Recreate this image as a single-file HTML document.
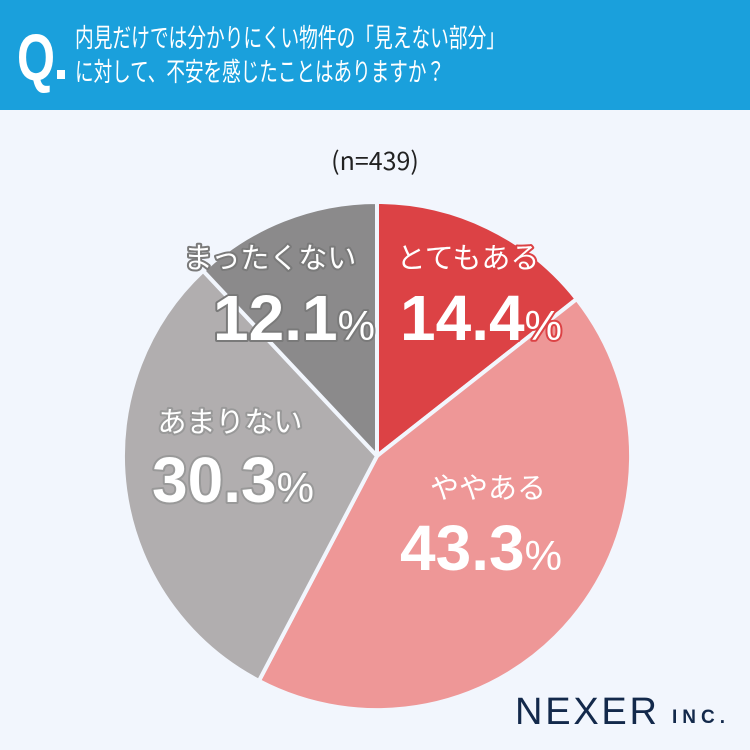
<!DOCTYPE html>
<html><head><meta charset="utf-8"><style>
body{margin:0;width:750px;height:750px;background:#f2f6fd;overflow:hidden;font-family:"Liberation Sans","Noto Sans CJK JP",sans-serif}
</style></head><body>
<svg width="750" height="750" xmlns="http://www.w3.org/2000/svg" style="position:absolute;left:0;top:0">
<rect x="0" y="0" width="750" height="110" fill="#1aa0dc"/>
<text x="17" y="80" font-size="66" fill="#fff" font-weight="bold" font-family="Liberation Sans, sans-serif" textLength="38" lengthAdjust="spacingAndGlyphs">Q</text>
<rect x="57" y="70" width="8" height="9" fill="#fff"/>
<text x="75" y="47" font-size="26" fill="#fff" font-family="Noto Sans CJK JP, sans-serif" textLength="430" lengthAdjust="spacingAndGlyphs">内見だけでは分かりにくい物件の「見えない部分」</text>
<text x="75" y="81" font-size="26" fill="#fff" font-family="Noto Sans CJK JP, sans-serif" textLength="370" lengthAdjust="spacingAndGlyphs">に対して、不安を感じたことはありますか？</text>
<text x="375" y="170" font-size="25" fill="#222" text-anchor="middle" font-family="Noto Sans CJK JP, sans-serif">(n=439)</text>
<g stroke="#f2f6fd" stroke-width="4" stroke-linejoin="round">
<path d="M377,456 L377,202 A254,254 0 0 1 576.7,299 Z" fill="#dc4245"/>
<path d="M377,456 L576.7,299 A254,254 0 0 1 258.9,680.9 Z" fill="#ee9797"/>
<path d="M377,456 L258.9,680.9 A254,254 0 0 1 203.1,270.8 Z" fill="#b1aeaf"/>
<path d="M377,456 L203.1,270.8 A254,254 0 0 1 377,202 Z" fill="#8b8a8b"/>
</g>
<g font-family="Noto Sans CJK JP, sans-serif" fill="#fff" paint-order="stroke" stroke-linejoin="round">
<text x="468" y="268" font-size="29" text-anchor="middle" stroke="#dc4245" stroke-width="4">とてもある</text>
<text x="400" y="340" font-size="64" stroke="#dc4245" stroke-width="4" font-family="Liberation Sans, sans-serif" font-weight="bold">14.4<tspan font-size="42" font-weight="normal">%</tspan></text>
<text x="270" y="268" font-size="29" text-anchor="middle" stroke="#7a7a7a" stroke-width="4">まったくない</text>
<text x="213" y="340" font-size="64" stroke="#7a7a7a" stroke-width="4" font-family="Liberation Sans, sans-serif" font-weight="bold">12.1<tspan font-size="42" font-weight="normal">%</tspan></text>
<text x="230" y="432" font-size="29" text-anchor="middle" stroke="#999" stroke-width="4">あまりない</text>
<text x="152" y="502" font-size="64" stroke="#999" stroke-width="4" font-family="Liberation Sans, sans-serif" font-weight="bold">30.3<tspan font-size="42" font-weight="normal">%</tspan></text>
<text x="488" y="498" font-size="29" text-anchor="middle" stroke="#ee9797" stroke-width="4">ややある</text>
<text x="400" y="570" font-size="64" stroke="#ee9797" stroke-width="4" font-family="Liberation Sans, sans-serif" font-weight="bold">43.3<tspan font-size="42" font-weight="normal">%</tspan></text>
</g>
<text x="515" y="724" font-size="38" fill="#13294b" font-family="Liberation Sans, sans-serif" textLength="142" lengthAdjust="spacing">NEXER</text>
<text x="672" y="723" font-size="19" fill="#13294b" font-family="Liberation Sans, sans-serif" font-weight="bold" textLength="53" lengthAdjust="spacing">INC.</text>
</svg>
</body></html>
